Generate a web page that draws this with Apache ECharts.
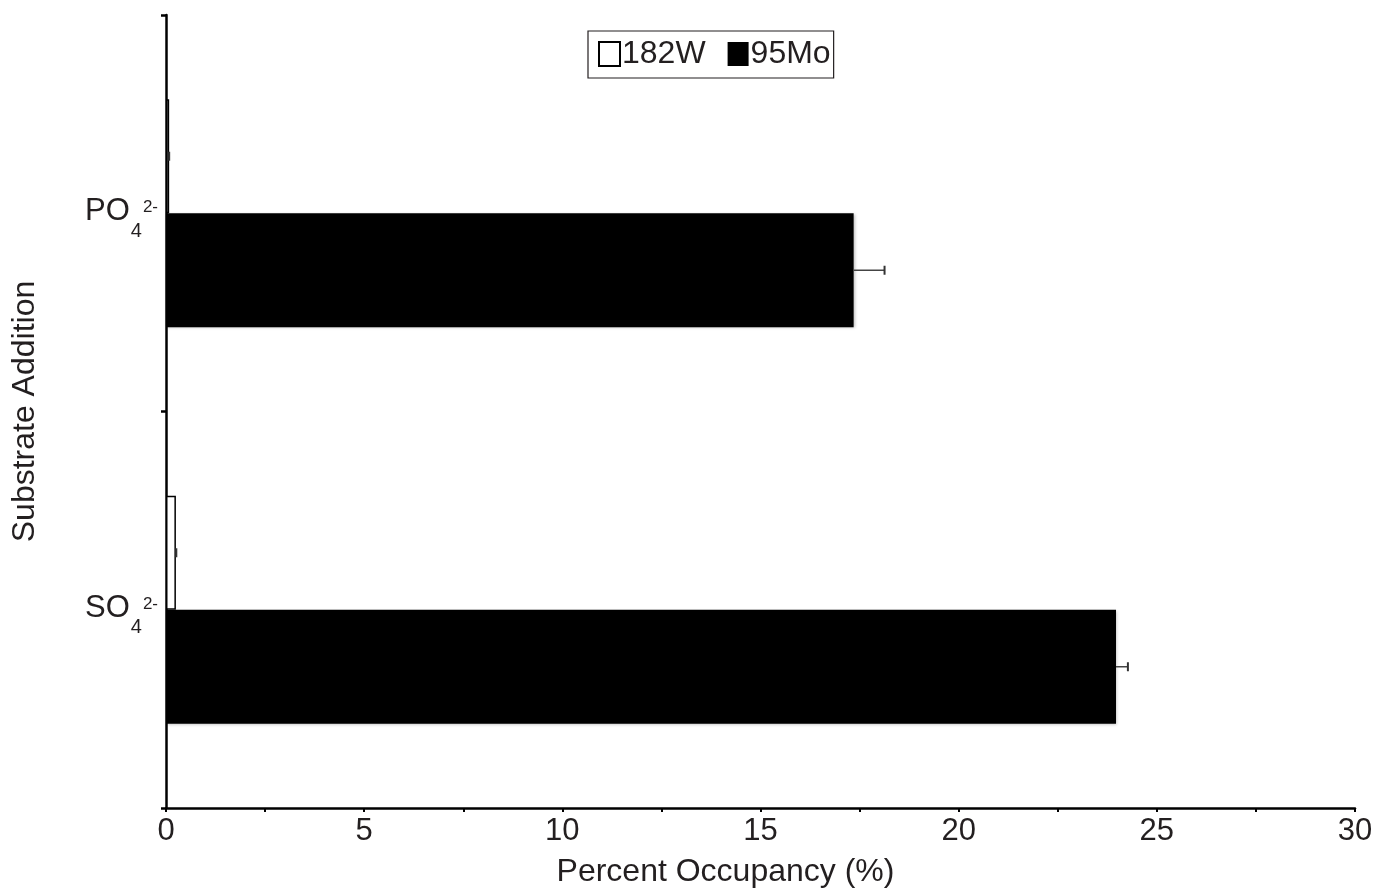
<!DOCTYPE html>
<html><head><meta charset="utf-8">
<script src="https://cdn.jsdelivr.net/npm/echarts@6/dist/echarts.min.js"></script>
<style>html,body{margin:0;padding:0;background:#fff}#c{width:1380px;height:890px}</style>
</head><body><div id="c"></div>
<script>
const categories = ['PO4', 'SO4'];
const seriesNames = ['182W', '95Mo'];
const w182 = [0.08, 0.25];
const w182Err = [0.0, 0.01];
const mo95 = [17.35, 23.97];
const mo95Err = [0.78, 0.3];
const xTicks = [0, 5, 10, 15, 20, 25, 30];

const TXT = '#231f20';
const FONT = 'Liberation Sans, Arial, sans-serif';
const BAR_W = 114;

const chart = echarts.init(document.getElementById('c'));

function errSeries(vals, errs, side) {
  return {
    type: 'custom',
    silent: true,
    z: 5,
    data: vals.map((v, i) => [v, i, errs[i]]),
    renderItem: function (params, api) {
      const v = api.value(0), ci = api.value(1), e = api.value(2);
      const c = api.coord([v, ci]);
      const y = c[1] + side * BAR_W / 2;
      const end = api.coord([v + e, ci])[0];
      const cap = 4.5;
      return {
        type: 'group',
        children: [
          { type: 'line', shape: { x1: c[0], y1: y, x2: end, y2: y }, style: { stroke: '#444', lineWidth: 1.5 } },
          { type: 'line', shape: { x1: end, y1: y - cap, x2: end, y2: y + cap }, style: { stroke: '#333', lineWidth: 2 } }
        ]
      };
    },
    encode: { x: 0, y: 1 }
  };
}

chart.setOption({
  animation: false,
  backgroundColor: '#fff',
  textStyle: { fontFamily: FONT, color: TXT },
  grid: { left: 166, right: 25, top: 15, bottom: 82, containLabel: false, outerBoundsMode: 'none' },
  legend: {
    data: seriesNames,
    left: 588, top: 31,
    icon: 'rect',
    itemWidth: 21, itemHeight: 24, itemGap: 22,
    padding: [7, 3, 8, 10],
    borderColor: '#231f20', borderWidth: 1.2, borderRadius: 0,
    textStyle: { fontSize: 32, color: TXT, fontFamily: FONT, padding: [0, 0, 0, -3] }
  },
  xAxis: {
    type: 'value', min: 0, max: 30, interval: 5,
    name: 'Percent Occupancy (%)', nameLocation: 'middle', nameGap: 48,
    nameTextStyle: { fontSize: 32, color: TXT, fontFamily: FONT, padding: [0, 70, 0, 0] },
    axisLine: { show: true, lineStyle: { color: '#000', width: 2.5 } },
    axisTick: { show: true, length: 4, lineStyle: { color: '#000', width: 2 } },
    minorTick: { show: true, splitNumber: 2, length: 4, lineStyle: { color: '#000', width: 2 } },
    splitLine: { show: false },
    axisLabel: { fontSize: 31, color: TXT, margin: 8, fontFamily: FONT,
      formatter: v => xTicks.includes(v) ? String(v) : '' }
  },
  yAxis: {
    type: 'category', data: categories, inverse: true,
    name: 'Substrate Addition', nameLocation: 'middle', nameGap: 125, nameRotate: 90,
    nameTextStyle: { fontSize: 32, color: TXT, fontFamily: FONT },
    axisLine: { show: true, lineStyle: { color: '#000', width: 2.5 } },
    axisTick: { show: true, length: 5, lineStyle: { color: '#000', width: 2.5 } },
    axisLabel: {
      margin: 8,
      padding: [24, 0, 0, 0],
      formatter: v => '{m|' + v.slice(0, 2) + '}{s|' + v.slice(2) + '}{p|2-}',
      rich: {
        m: { fontSize: 31, color: TXT, fontFamily: FONT, lineHeight: 32, padding: [8, 0, 14, 0], verticalAlign: 'bottom' },
        s: { fontSize: 20, color: TXT, fontFamily: FONT, lineHeight: 20, padding: [0, 0, 0, 1], verticalAlign: 'bottom' },
        p: { fontSize: 17, color: TXT, fontFamily: FONT, lineHeight: 16, padding: [0, 0, 25, 1], verticalAlign: 'bottom' }
      }
    }
  },
  series: [
    { name: '182W', type: 'bar', data: w182, barWidth: BAR_W, barGap: '0%',
      itemStyle: { color: '#fff', borderColor: '#000', borderWidth: 1.5 } },
    { name: '95Mo', type: 'bar', data: mo95, barWidth: BAR_W, barGap: '0%',
      itemStyle: { color: '#000', borderColor: '#000', borderWidth: 0, shadowColor: 'rgba(0,0,0,0.25)', shadowBlur: 3, shadowOffsetX: 1, shadowOffsetY: 1 } },
    errSeries(w182, w182Err, -1),
    errSeries(mo95, mo95Err, 1)
  ]
});
</script></body></html>
